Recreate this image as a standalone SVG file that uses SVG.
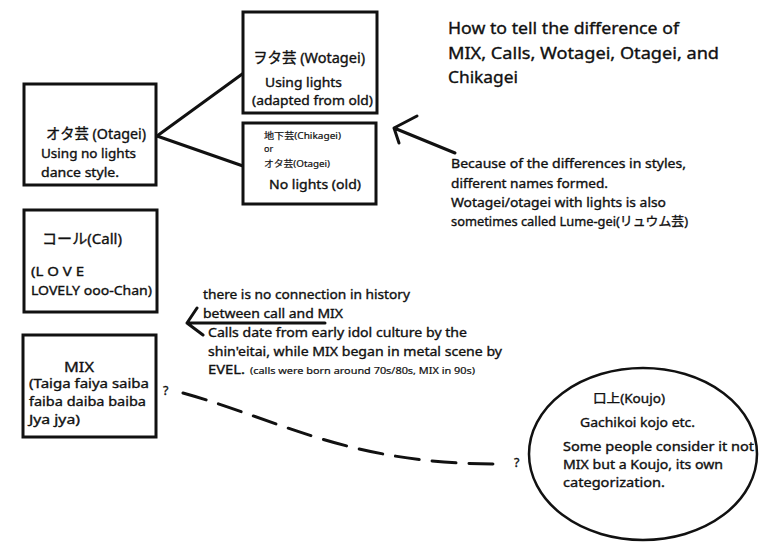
<svg xmlns="http://www.w3.org/2000/svg" width="774" height="557" viewBox="0 0 774 557">
<style>
text{font-family:"Noto Sans","Noto Sans CJK JP",sans-serif;fill:#111;stroke:#111;stroke-width:0.35;}
.b{font-size:12.5px;}
.h{font-size:14.5px;}
.t{font-size:16.5px;}
.s{font-size:9px;stroke-width:0.2;}
.box{fill:#fff;stroke:#111;stroke-width:3;}
.ln{fill:none;stroke:#111;stroke-width:3;stroke-linecap:round;stroke-linejoin:round;}
</style>
<rect width="774" height="557" fill="#fff"/>
<g id="title">
<text class="t" x="448" y="34" textLength="231" lengthAdjust="spacingAndGlyphs">How to tell the difference of</text>
<text class="t" x="448" y="59" textLength="271" lengthAdjust="spacingAndGlyphs">MIX, Calls, Wotagei, Otagei, and</text>
<text class="t" x="448" y="83" textLength="70" lengthAdjust="spacingAndGlyphs">Chikagei</text>
</g>
<g id="connectors">
<path class="ln" d="M157,136 L245,72"/>
<path class="ln" d="M157,136 L243,166"/>
<path class="ln" d="M455,153 L394,128 M417,116 L394,128 L399,143"/>
<path class="ln" d="M325,323 L187,323 M197,308 L187,323 L203,335"/>
<path class="ln" d="M183,393 C280,420 350,465 502,464" stroke-dasharray="24 13"/>
</g>
<g id="otagei">
<rect class="box" x="24" y="84" width="132" height="101"/>
<text class="h" x="46" y="139" textLength="100" lengthAdjust="spacingAndGlyphs">オタ芸 (Otagei)</text>
<text class="b" x="41" y="158" textLength="95" lengthAdjust="spacingAndGlyphs">Using no lights</text>
<text class="b" x="41" y="177" textLength="78" lengthAdjust="spacingAndGlyphs">dance style.</text>
</g>
<g id="wotagei">
<rect class="box" x="243" y="12" width="134" height="101"/>
<text class="h" x="253" y="63" textLength="112" lengthAdjust="spacingAndGlyphs">ヲタ芸 (Wotagei)</text>
<text class="b" x="265" y="87" textLength="77" lengthAdjust="spacingAndGlyphs">Using lights</text>
<text class="b" x="252" y="105" textLength="121" lengthAdjust="spacingAndGlyphs">(adapted from old)</text>
</g>
<g id="chikagei">
<rect class="box" x="243" y="123" width="133" height="81"/>
<text class="s" x="264" y="139" textLength="77" lengthAdjust="spacingAndGlyphs">地下芸(Chikagei)</text>
<text class="s" x="264" y="152">or</text>
<text class="s" x="264" y="167" textLength="66" lengthAdjust="spacingAndGlyphs">オタ芸(Otagei)</text>
<text class="b" x="269" y="189" textLength="92" lengthAdjust="spacingAndGlyphs">No lights (old)</text>
</g>
<g id="note-names">
<text class="b" x="451" y="168" textLength="235" lengthAdjust="spacingAndGlyphs">Because of the differences in styles,</text>
<text class="b" x="451" y="188" textLength="157" lengthAdjust="spacingAndGlyphs">different names formed.</text>
<text class="b" x="451" y="207" textLength="215" lengthAdjust="spacingAndGlyphs">Wotagei/otagei with lights is also</text>
<text class="b" x="451" y="226" textLength="237" lengthAdjust="spacingAndGlyphs">sometimes called Lume-gei(リュウム芸)</text>
</g>
<g id="call">
<rect class="box" x="24" y="210" width="133" height="102"/>
<text class="h" x="42" y="244" textLength="80" lengthAdjust="spacingAndGlyphs">コール(Call)</text>
<text class="b" x="31" y="276" textLength="53" lengthAdjust="spacingAndGlyphs">(L O V E</text>
<text class="b" x="31" y="295" textLength="121" lengthAdjust="spacingAndGlyphs">LOVELY ooo-Chan)</text>
</g>
<g id="note-history">
<text class="b" x="203" y="299" textLength="207" lengthAdjust="spacingAndGlyphs">there is no connection in history</text>
<text class="b" x="203" y="318" textLength="140" lengthAdjust="spacingAndGlyphs">between call and MIX</text>
<text class="b" x="208" y="337" textLength="259" lengthAdjust="spacingAndGlyphs">Calls date from early idol culture by the</text>
<text class="b" x="208" y="356" textLength="294" lengthAdjust="spacingAndGlyphs">shin'eitai, while MIX began in metal scene by</text>
<text class="b" x="208" y="374" textLength="37" lengthAdjust="spacingAndGlyphs">EVEL.</text>
<text class="s" x="250" y="374" textLength="225" lengthAdjust="spacingAndGlyphs">(calls were born around 70s/80s, MIX in 90s)</text>
</g>
<g id="mix">
<rect class="box" x="23" y="335" width="133" height="102"/>
<text class="h" x="64" y="372" textLength="30" lengthAdjust="spacingAndGlyphs">MIX</text>
<text class="b" x="29" y="388" textLength="120" lengthAdjust="spacingAndGlyphs">(Taiga faiya saiba</text>
<text class="b" x="29" y="406" textLength="117" lengthAdjust="spacingAndGlyphs">faiba daiba baiba</text>
<text class="b" x="29" y="424" textLength="51" lengthAdjust="spacingAndGlyphs">Jya jya)</text>
<text class="b" x="163" y="395">?</text>
</g>
<g id="koujo">
<ellipse cx="643" cy="454" rx="114" ry="86" fill="#fff" stroke="#111" stroke-width="2.5"/>
<text class="b" x="593" y="403" textLength="72" lengthAdjust="spacingAndGlyphs">口上(Koujo)</text>
<text class="b" x="580" y="427" textLength="115" lengthAdjust="spacingAndGlyphs">Gachikoi kojo etc.</text>
<text class="b" x="563" y="451" textLength="191" lengthAdjust="spacingAndGlyphs">Some people consider it not</text>
<text class="b" x="563" y="469" textLength="160" lengthAdjust="spacingAndGlyphs">MIX but a Koujo, its own</text>
<text class="b" x="563" y="487" textLength="102" lengthAdjust="spacingAndGlyphs">categorization.</text>
<text class="b" x="514" y="467">?</text>
</g>
</svg>
